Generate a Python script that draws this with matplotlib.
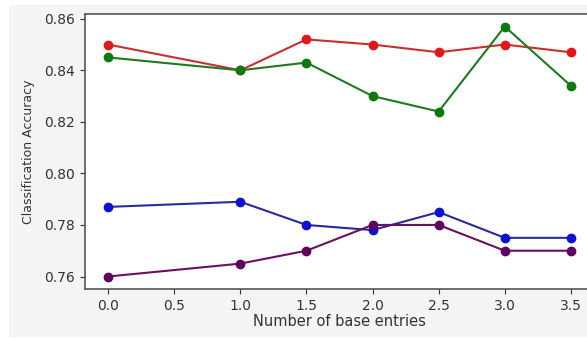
import matplotlib
matplotlib.use("Agg")
import matplotlib.pyplot as plt
from matplotlib.patches import Rectangle

x = [0.0, 1.0, 1.5, 2.0, 2.5, 3.0, 3.5]
red_vals = [0.850, 0.840, 0.852, 0.850, 0.847, 0.850, 0.847]
green_vals = [0.845, 0.840, 0.843, 0.830, 0.824, 0.857, 0.834]
blue_vals = [0.787, 0.789, 0.780, 0.778, 0.785, 0.775, 0.775]
purple_vals = [0.760, 0.765, 0.770, 0.780, 0.780, 0.770, 0.770]

fig = plt.figure(figsize=(5.87, 3.38), dpi=100, facecolor="white")
fig.patches.append(Rectangle((9/587, 0.003), 1, 1 - 5/338 - 0.003,
                             transform=fig.transFigure, facecolor="#f4f4f4",
                             edgecolor="none", zorder=-10))
ax = fig.add_axes([85/587, 1 - 289/338, (594 - 85)/587, (289 - 14)/338])
ax.set_facecolor("white")

series = [
    (red_vals, "#c83030", "#e01818"),
    (green_vals, "#1f7a1f", "#0a7a0a"),
    (blue_vals, "#2a2a9a", "#1010d0"),
    (purple_vals, "#6a1060", "#600060"),
]
for vals, lc, mc in series:
    ax.plot(x, vals, color=lc, lw=1.5, marker="o", ms=6,
            markerfacecolor=mc, markeredgecolor=mc)

ax.set_xlim(-0.175, 3.675)
ax.set_ylim(0.75515, 0.86185)
ax.set_xticks([0.0, 0.5, 1.0, 1.5, 2.0, 2.5, 3.0, 3.5])
ax.set_yticks([0.76, 0.78, 0.80, 0.82, 0.84, 0.86])
ax.set_xticklabels(["0.0", "0.5", "1.0", "1.5", "2.0", "2.5", "3.0", "3.5"])
ax.set_yticklabels(["0.76", "0.78", "0.80", "0.82", "0.84", "0.86"])
ax.tick_params(labelsize=10, colors="#333333")
for s in ax.spines.values():
    s.set_color("#555555")
    s.set_linewidth(1.2)
ax.set_xlabel("Number of base entries", fontsize=10.5, color="#333333", labelpad=1)
ax.set_ylabel("Classification Accuracy", fontsize=9, color="#333333", labelpad=7)
fig.savefig("out.png", dpi=100, facecolor=fig.get_facecolor())
